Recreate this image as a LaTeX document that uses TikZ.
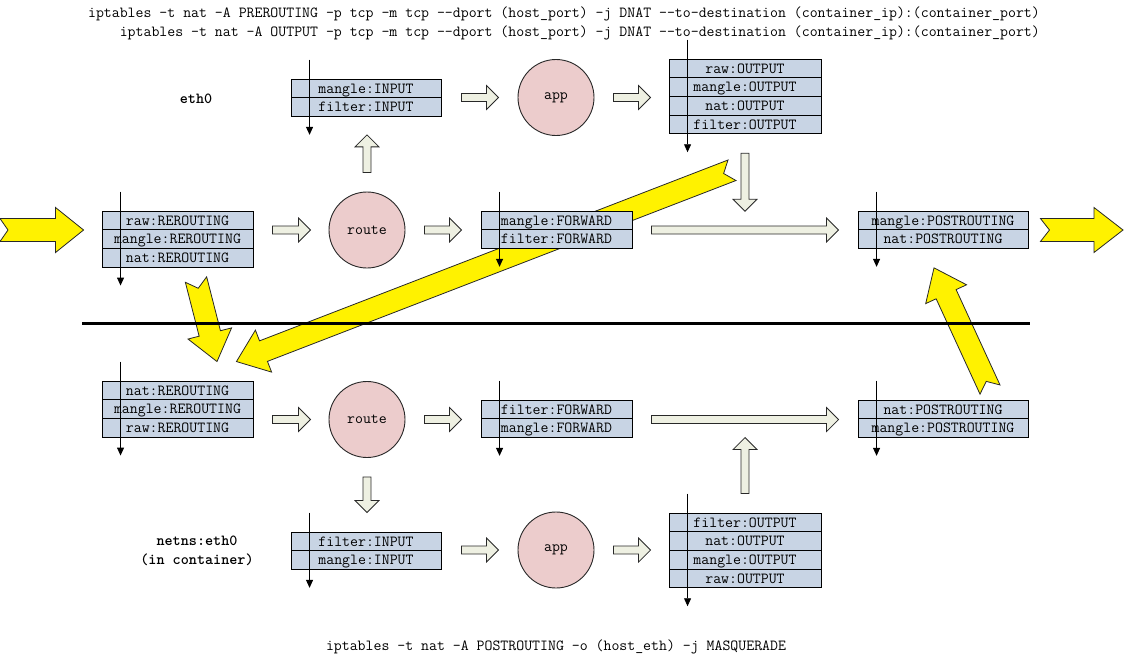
\documentclass[tikz,border=0pt]{standalone}
\usepackage{fontspec}
\usetikzlibrary{calc,arrows.meta}
\pgfdeclarelayer{back}
\pgfsetlayers{back,main}

\definecolor{boxfill}{RGB}{200,212,228}
\definecolor{roundfill}{RGB}{236,204,204}
\definecolor{hollowfill}{RGB}{238,240,226}
\definecolor{edgegray}{RGB}{40,40,40}

\newcommand\tabfont{\fontsize{15.4}{19}\selectfont\ttfamily}

% broad arrow from tail #2 to tip #3:
% #4 shaft half width, #5 head half width, #6 head length, #7 tail notch depth
\newcommand\fatarrow[7][]{%
  \draw[#1]
    ($(#2)!#4!90:(#3)$)
    -- ($(#3)!#6!(#2)!#4!-90:(#2)$)
    -- ($(#3)!#6!(#2)!#5!-90:(#2)$)
    -- (#3)
    -- ($(#3)!#6!(#2)!#5!90:(#2)$)
    -- ($(#3)!#6!(#2)!#4!90:(#2)$)
    -- ($(#2)!#4!-90:(#3)$)
    -- ($(#2)!#7!(#3)$)
    -- cycle;}

% stack of table rows: name, top centre, width, row texts
\newcommand\chaintable[4]{%
  \foreach \t [count=\i] in {#4}
    \node[row, minimum width=#3pt] (#1-\i) at ($(#2)+(0,{18.7*(\i-1)+9.35})$) {\t};}

\tikzset{
  row/.style={draw=black, line width=0.9pt, fill=boxfill, inner sep=0pt,
    minimum height=18.7pt, font=\tabfont, text height=9.8pt, text depth=0pt},
  hub/.style={circle, draw=edgegray, line width=0.9pt, fill=roundfill,
    minimum size=76pt, inner sep=0pt, font=\tabfont},
  hollow/.style={draw=edgegray, line width=0.8pt, fill=hollowfill},
  bolt/.style={draw=edgegray, line width=0.8pt, fill=yellow},
  tick/.style={line width=0.9pt, -{Triangle[length=8pt,width=7pt]}},
  cmdtext/.style={font=\tabfont, inner sep=0pt},
  sidetext/.style={font=\fontsize{15.4}{19}\selectfont\ttfamily\bfseries, inner sep=0pt, align=center}
}

\begin{document}
\begin{tikzpicture}[x=1pt,y=-1pt]
\useasboundingbox (0,0) rectangle (1124,656);

% iptables rules
\node[cmdtext, anchor=base east] (cmdpre) at (1040,17)
  {iptables -t nat -A PREROUTING -p tcp -m tcp -{}-dport (host\_port) -j DNAT -{}-to-destination (container\_ip):(container\_port)};
\node[cmdtext, anchor=base east] (cmdout) at (1040,36)
  {iptables -t nat -A OUTPUT -p tcp -m tcp -{}-dport (host\_port) -j DNAT -{}-to-destination (container\_ip):(container\_port)};
\node[cmdtext, anchor=base] (cmdmasq) at (556,650)
  {iptables -t nat -A POSTROUTING -o (host\_eth) -j MASQUERADE};

% interface labels
\node[sidetext, anchor=base] (hostif) at (196,103) {eth0};
\node[sidetext] (nsif) at (197,551) {netns:eth0\\(in container)};

% routing decisions and local processes
\node[hub] (route1) at (367,230) {route};
\node[hub] (app1) at (556,97.5) {app};
\node[hub] (route2) at (367,419.5) {route};
\node[hub] (app2) at (556,550) {app};

% host namespace chains
\chaintable{preA}{177.5,211}{151}{raw:REROUTING,mangle:REROUTING,nat:REROUTING}
\chaintable{inA}{366,79}{150}{mangle:INPUT,filter:INPUT}
\chaintable{outA}{745,59}{152}{raw:OUTPUT,mangle:OUTPUT,nat:OUTPUT,filter:OUTPUT}
\chaintable{fwdA}{556.5,211}{151}{mangle:FORWARD,filter:FORWARD}
\chaintable{postA}{943,211}{170}{mangle:POSTROUTING,nat:POSTROUTING}

% container namespace chains
\chaintable{preB}{177.5,381}{151}{nat:REROUTING,mangle:REROUTING,raw:REROUTING}
\chaintable{fwdB}{556.5,400}{151}{filter:FORWARD,mangle:FORWARD}
\chaintable{postB}{943,400}{170}{nat:POSTROUTING,mangle:POSTROUTING}
\chaintable{inB}{366,532}{150}{filter:INPUT,mangle:INPUT}
\chaintable{outB}{745,513}{152}{filter:OUTPUT,nat:OUTPUT,mangle:OUTPUT,raw:OUTPUT}

% traversal lines through each table
\foreach \n/\k in {preA/3,inA/2,outA/4,fwdA/2,postA/2,preB/3,fwdB/2,postB/2,inB/2,outB/4}
  \draw[tick] ([xshift=19pt,yshift=19pt]\n-1.north west) -- ([xshift=19pt,yshift=-18pt]\n-\k.south west);

% hollow flow arrows, host side
\coordinate (h1s) at ($(preA-1.east |- route1.west)+(19,0)$);
\coordinate (h1e) at ($(route1.west)+(-18,0)$);
\coordinate (h2s) at ($(route1.east)+(19,0)$);
\coordinate (h2e) at ($(fwdA-1.west |- route1.east)+(-19,0)$);
\coordinate (h3s) at ($(fwdA-1.east |- route1.east)+(19,0)$);
\coordinate (h3e) at ($(postA-1.west |- route1.east)+(-19,0)$);
\coordinate (v1s) at ($(route1.north)+(0,-19)$);
\coordinate (v1e) at ($(inA-2.south -| route1.north)+(0,18)$);
\coordinate (h4s) at ($(inA-1.east |- app1.west)+(20,0)$);
\coordinate (h4e) at ($(app1.west)+(-19,0)$);
\coordinate (h5s) at ($(app1.east)+(19,0)$);
\coordinate (h5e) at ($(outA-1.west |- app1.east)+(-18,0)$);
\coordinate (v2s) at ($(outA-4.south)+(0,19)$);
\coordinate (v2e) at ($(outA-4.south)+(0,77)$);

% hollow flow arrows, container side
\coordinate (h6s) at ($(preB-1.east |- route2.west)+(19,0)$);
\coordinate (h6e) at ($(route2.west)+(-18,0)$);
\coordinate (h7s) at ($(route2.east)+(19,0)$);
\coordinate (h7e) at ($(fwdB-1.west |- route2.east)+(-19,0)$);
\coordinate (h8s) at ($(fwdB-1.east |- route2.east)+(19,0)$);
\coordinate (h8e) at ($(postB-1.west |- route2.east)+(-19,0)$);
\coordinate (v3s) at ($(route2.south)+(0,19)$);
\coordinate (v3e) at ($(inB-1.north -| route2.south)+(0,-19)$);
\coordinate (h9s) at ($(inB-1.east |- app2.west)+(20,0)$);
\coordinate (h9e) at ($(app2.west)+(-19,0)$);
\coordinate (h10s) at ($(app2.east)+(19,0)$);
\coordinate (h10e) at ($(outB-1.west |- app2.east)+(-18,0)$);
\coordinate (v4s) at ($(outB-1.north)+(0,-19)$);
\coordinate (v4e) at ($(outB-1.north)+(0,-75)$);

\foreach \a in {h1,h2,h3,v1,h4,h5,v2,h6,h7,h8,v3,h9,h10,v4}
  \fatarrow[hollow]{\a s}{\a e}{4pt}{12pt}{12pt}{0pt};

% packet path (yellow)
\coordinate (inlet) at (0,230);
\coordinate (y0e) at ($(preA-1.west |- route1.west)+(-18,0)$);
\coordinate (y1s) at ($(preA-3.south)+(18.5,12)$);
\coordinate (y1e) at ($(preB-1.north)+(39.5,-19)$);
\coordinate (y2s) at ($(outA-4.south)+(-13,36)$);
\coordinate (y2e) at ($(preB-1.north east)+(-17,-19)$);
\coordinate (y3s) at ($(postB-1.north)+(47,-10)$);
\coordinate (y3e) at ($(postA-2.south)+(-9,19)$);
\coordinate (y4s) at ($(postA-1.east |- route1.east)+(12,0)$);
\coordinate (outlet) at (1123,230);

\begin{pgfonlayer}{back}
  \fatarrow[bolt]{inlet}{y0e}{11.5pt}{22.5pt}{28pt}{8pt};
  \fatarrow[bolt]{y1s}{y1e}{11pt}{22.5pt}{29pt}{9pt};
  \fatarrow[bolt]{y2s}{y2e}{11pt}{22.5pt}{29pt}{9pt};
  \fatarrow[bolt]{y3s}{y3e}{11pt}{22.5pt}{29pt}{9pt};
  \fatarrow[bolt]{y4s}{outlet}{11.5pt}{22.5pt}{29pt}{9pt};
\end{pgfonlayer}

% namespace boundary
\coordinate (sepL) at (82,323);
\coordinate (sepR) at (1030,323);
\draw[line width=3pt] (sepL) -- (sepR);
\end{tikzpicture}
\end{document}
